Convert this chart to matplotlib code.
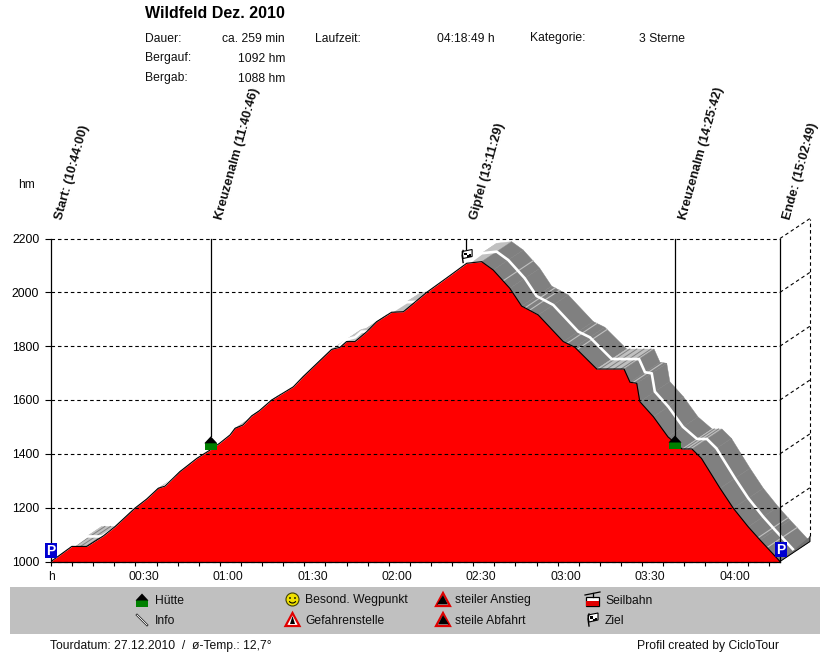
import numpy as np
import matplotlib
matplotlib.use("Agg")
import matplotlib.pyplot as plt
from matplotlib.collections import PolyCollection
from matplotlib.patches import Polygon, Rectangle, Circle, Arc
from matplotlib.ticker import MultipleLocator

plt.rcParams['font.family'] = ['Liberation Sans', 'DejaVu Sans']

# profile, minutes since start / height in hm
minutes = [0, 7.4, 12.7, 18.6, 22.7, 29.8, 34, 38.1, 40.5, 45.8, 51.8, 56.5, 60, 63.6,
           65.4, 68.2, 71.3, 74, 78.4, 86.1, 89.6, 92, 99.7, 102.7, 105, 108, 112.2,
           115.7, 121, 125.2, 133.5, 141.7, 147.7, 153, 157.1, 163, 167.2, 173.1, 182,
           186.1, 193.9, 203.6, 205.7, 208.1, 209.2, 214, 219.2, 224.2, 227.7, 231.1,
           237.7, 242.4, 247.7, 251.9, 259]
height = [1000, 1056, 1056, 1095, 1129, 1198, 1232, 1272, 1280, 1334, 1383, 1414, 1440, 1470,
          1495, 1507, 1541, 1560, 1600, 1649, 1687, 1711, 1788, 1796, 1817, 1817, 1854,
          1891, 1926, 1928, 2000, 2062, 2108, 2114, 2083, 2015, 1949, 1916, 1817,
          1796, 1715, 1715, 1666, 1662, 1594, 1538, 1463, 1418, 1418, 1383,
          1272, 1198, 1129, 1080, 1000]

# waypoints
hut_min = [56.77, 221.7]
hut_hm = [1415, 1418]
flag_min = 147.48
way_labels = ["Start: (10:44:00)", "Kreuzenalm (11:40:46)", "Gipfel (13:11:29)",
              "Kreuzenalm (14:25:42)", "Ende: (15:02:49)"]
way_min = [0, 56.77, 147.48, 221.7, 258.82]

# small flat bits on the ribbon
light_stripes = [160.6, 168.4, 170, 183.3, 186.9, 206.7, 251.2, 254.4]
dark_stripes = [8.5, 10.5, 12.5, 195, 197.5, 200, 202.5, 225, 226.5]

y_ticks = [1000, 1200, 1400, 1600, 1800, 2000, 2200]
x_ticks = [0, 30, 60, 90, 120, 150, 180, 210, 240]
x_labels = ["h", "00:30", "01:00", "01:30", "02:00", "02:30", "03:00", "03:30", "04:00"]

RED = "#ff0000"
GREY = "#808080"
LIGHT = "#c0c0c0"
FS = 8.75

fig = plt.figure(figsize=(8.3, 6.52), dpi=100)
ax = fig.add_axes([51 / 830, (652 - 561.5) / 652, 729 / 830, 323 / 652])
ax.set_xlim(0, 259)
ax.set_ylim(1000, 2200)
ax.patch.set_alpha(0)

# depth of the 3d look: 30px right, 20px up
dx = 30 / 2.815
dy = 20 / (323 / 1200)

t = np.array(minutes)
h = np.array(height)

quads = []
cols = []
for i in range(len(t) - 1):
    quads.append([(t[i], h[i]), (t[i + 1], h[i + 1]), (t[i + 1] + dx, h[i + 1] + dy), (t[i] + dx, h[i] + dy)])
    cols.append(LIGHT if h[i + 1] >= h[i] else GREY)
ax.add_collection(PolyCollection(quads, facecolors=cols, edgecolors=cols, linewidths=0.3,
                                 zorder=1, clip_on=False))

for s in light_stripes:
    v = np.interp(s, t, h)
    ax.plot([s, s + dx], [v, v + dy], color=LIGHT, lw=0.8, zorder=1.5, clip_on=False)
for s in dark_stripes:
    v = np.interp(s, t, h)
    ax.plot([s, s + dx], [v, v + dy], color=GREY, lw=0.7, zorder=1.5, clip_on=False)

ax.plot(t + dx / 2, h + dy / 2, color="white", lw=1.9, zorder=2, clip_on=False)

ax.fill_between(t, 1000, h, color=RED, lw=0, zorder=3)
ax.plot(t, h, color="black", lw=0.8, zorder=3.5)

# grid with the back wall
dash = (0, (3.2, 2.6))
for v in y_ticks:
    ax.plot([0, 259], [v, v], color="black", lw=0.8, ls=dash, zorder=4, clip_on=False)
    if v > 1000:
        ax.plot([259, 259 + dx], [v, v + dy], color="black", lw=0.8, ls=dash, zorder=4, clip_on=False)
ax.plot([259 + dx, 259 + dx], [1000 + dy + 19, 2200 + dy], color="black", lw=0.8, ls=dash, zorder=4, clip_on=False)

# front edge of the floor
ax.add_patch(Polygon([(259, 1000), (259 + dx, 1000 + dy), (259 + dx, 1000 + dy + 19), (259 + 2, 1000 + 17)],
                     closed=True, facecolor="#707070", edgecolor="none", zorder=2.5, clip_on=False))
ax.plot([259, 259 + dx, 259 + dx], [1000, 1000 + dy, 1000 + dy + 19], color="black", lw=0.7, zorder=4, clip_on=False)

ax.plot([259, 259], [1000, 2200], color="black", lw=0.9, zorder=5, clip_on=False)
for m in hut_min:
    ax.plot([m, m], [2200, 1465], color="black", lw=0.9, zorder=5)
ax.plot([flag_min, flag_min], [2200, 2160], color="black", lw=0.9, zorder=5)

for side in ["top", "right"]:
    ax.spines[side].set_visible(False)
for side in ["left", "bottom"]:
    ax.spines[side].set_linewidth(0.9)
    ax.spines[side].set_zorder(6)

ax.set_yticks(y_ticks)
ax.set_xticks(x_ticks)
ax.set_xticklabels([])
ax.xaxis.set_minor_locator(MultipleLocator(7.5))
ax.tick_params(axis="y", length=4.5, width=0.8, pad=4, labelsize=FS)
ax.tick_params(axis="x", which="major", length=3, width=0.8)
ax.tick_params(axis="x", which="minor", length=3, width=0.8)
# labels sit a bit right of their ticks, "h" does not
for m, s in zip(x_ticks, x_labels):
    off = 0 if s == "h" else 8
    ax.annotate(s, (m, 1000), xytext=(off, -19), textcoords="offset pixels", ha="center", va="baseline",
                fontsize=FS, color="#101010", annotation_clip=False)

# overlay in pixels for header, legend and icons
ov = fig.add_axes([0, 0, 1, 1], zorder=10)
ov.set_xlim(0, 830)
ov.set_ylim(652, 0)
ov.axis("off")
ov.patch.set_alpha(0)


def to_px(m, v):
    return 51 + m * 729 / 259, 561.5 - (v - 1000) * 323 / 1200


def txt(x, y, s, **kw):
    # y is the middle of the digits, so lines stay on one baseline
    kw.setdefault("fontsize", FS)
    kw.setdefault("color", "#101010")
    ov.text(x, y + 4, s, va="baseline", **kw)


def hut(cx, bottom):
    ov.add_patch(Rectangle((cx - 6, bottom - 7), 12, 7, color="#008000", lw=0))
    ov.add_patch(Polygon([(cx - 6.5, bottom - 6.5), (cx, bottom - 13.5), (cx + 6.5, bottom - 6.5)], color="black", lw=0))


def flag(cx, cy):
    ov.plot([cx - 3, cx - 4, cx - 3], [cy + 7, cy, cy - 5], color="black", lw=1)
    ov.add_patch(Polygon([(cx - 4, cy - 4), (cx + 6, cy - 6), (cx + 6, cy + 1), (cx - 3, cy + 3)],
                         facecolor="white", edgecolor="black", lw=0.8))
    ov.add_patch(Rectangle((cx - 2, cy - 3), 2.5, 2.5, color="black", lw=0))
    ov.add_patch(Rectangle((cx + 2.5, cy - 1.5), 2.5, 2.5, color="black", lw=0))
    ov.add_patch(Rectangle((cx + 0.5, cy - 0.5), 2, 2, color="black", lw=0))


def parking(x0, y0):
    ov.add_patch(Rectangle((x0, y0), 11.5, 15, color="#0000d0", lw=0))
    ov.text(x0 + 5.8, y0 + 7.6, "P", color="white", fontsize=10, fontweight="bold", ha="center", va="center")


def warn(cx, cy, fill="white"):
    ov.add_patch(Polygon([(cx - 7, cy + 6), (cx, cy - 7), (cx + 7, cy + 6)],
                         facecolor=fill, edgecolor="#e00000", lw=1.6, joinstyle="miter"))


# chart icons
for m, v in zip(hut_min, hut_hm):
    px, py = to_px(m, v)
    hut(px, py)
px, _ = to_px(flag_min, 2200)
flag(px, 255.5)
parking(45, 543)
parking(775, 542)

# rotated waypoint labels
for m, s in zip(way_min, way_labels):
    px, _ = to_px(m, 2200)
    ov.text(px + 8, 219, s, rotation=74.5, rotation_mode="anchor", ha="left", va="center",
            fontsize=9.3, fontweight="bold", color="#101010")

# header
ov.text(145, 18, "Wildfeld Dez. 2010", fontsize=11.5, fontweight="bold", color="black", va="baseline")
txt(145, 37.5, "Dauer:")
txt(145, 57.5, "Bergauf:")
txt(145, 77.5, "Bergab:")
txt(285, 37.5, "ca. 259 min", ha="right")
txt(285, 57.5, "1092 hm", ha="right")
txt(285, 77.5, "1088 hm", ha="right")
txt(315, 37.5, "Laufzeit:")
txt(495, 37.5, "04:18:49 h", ha="right")
txt(530, 37.5, "Kategorie:")
txt(639, 37.5, "3 Sterne")
txt(18, 184, "hm")

# legend band
ov.add_patch(Rectangle((10, 587), 810, 47, color="#c0c0c0", lw=0))
hut(142, 607)
txt(155, 599.5, "Hütte")
ov.plot([137, 147], [615, 625], color="black", lw=1.6)
ov.plot([137, 147], [615, 625], color="white", lw=0.7)
txt(155, 619.5, "Info")

ov.add_patch(Circle((292.5, 599.5), 6.5, facecolor="#f0e000", edgecolor="#404000", lw=0.8))
ov.add_patch(Circle((290, 598), 0.9, color="black", lw=0))
ov.add_patch(Circle((295, 598), 0.9, color="black", lw=0))
ov.add_patch(Arc((292.5, 600), 7, 6, theta1=20, theta2=160, color="black", lw=0.8))
txt(305, 599.5, "Besond. Wegpunkt")
warn(292.5, 620)
ov.add_patch(Polygon([(290, 624), (292.5, 616), (295, 624)], color="black", lw=0))
txt(305, 619.5, "Gefahrenstelle")

warn(443, 600)
ov.add_patch(Polygon([(437, 604.5), (443, 595), (448, 604.5)], color="black", lw=0))
txt(455, 599.5, "steiler Anstieg")
warn(443, 620)
ov.add_patch(Polygon([(438, 624.5), (443, 615), (449, 624.5)], color="black", lw=0))
txt(455, 619.5, "steile Abfahrt")

ov.add_patch(Rectangle((586, 597), 13, 9, facecolor="white", edgecolor="black", lw=0.9))
ov.add_patch(Rectangle((586, 601), 13, 5, color="#e00000", lw=0))
ov.plot([585, 600], [595, 592], color="black", lw=0.9)
ov.plot([592.5, 592.5], [593, 597], color="black", lw=0.9)
txt(605, 599.5, "Seilbahn")
flag(592, 619)
txt(605, 619.5, "Ziel")

# footer
txt(50, 645.5, "Tourdatum: 27.12.2010  /  ø-Temp.: 12,7°")
txt(637, 645.5, "Profil created by CicloTour")

fig.savefig("out.png", dpi=100)
